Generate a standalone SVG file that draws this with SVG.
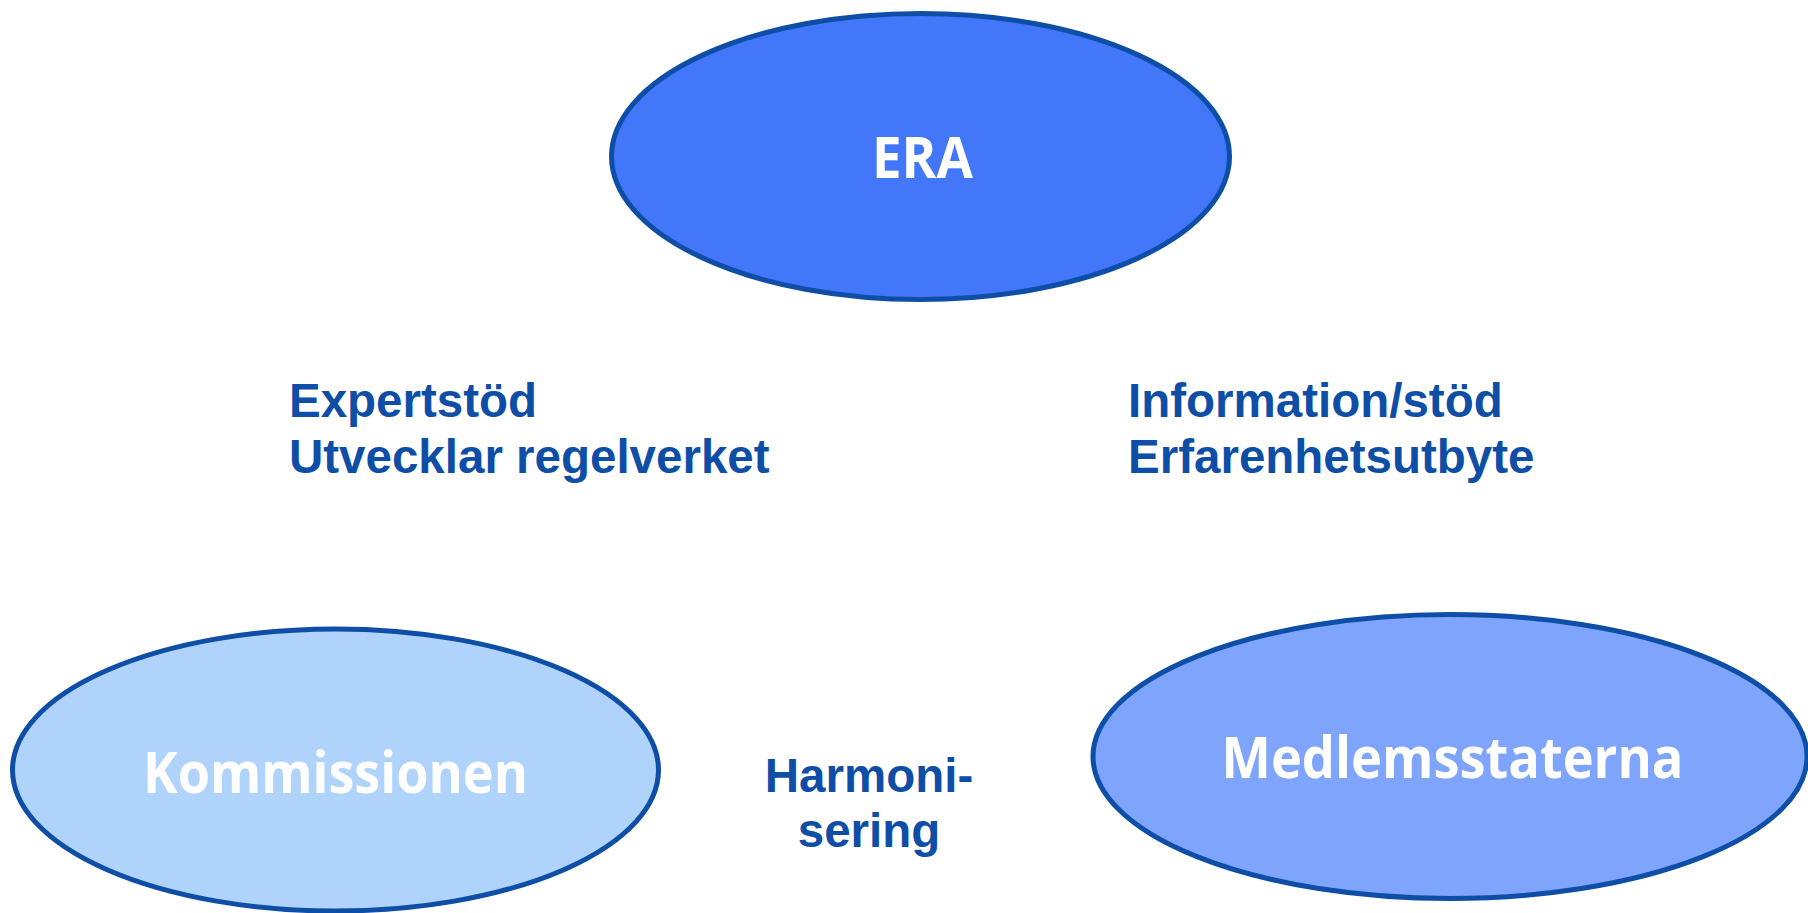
<svg xmlns="http://www.w3.org/2000/svg" width="1808" height="913" viewBox="0 0 1808 913">
<style>
.node{stroke:#0E4EA6;stroke-width:5}
.ntext{font-family:"Open Sans","Noto Sans",sans-serif;font-weight:700;font-size:58px;fill:#FFFFFF;text-anchor:middle}
.lbl{font-family:"Liberation Sans",Arial,sans-serif;font-weight:700;font-size:47.5px;fill:#0E4EA6}
</style>
<rect width="1808" height="913" fill="#FFFFFF"/>
<g id="connectors"></g>
<g id="node-era">
<ellipse class="node" cx="920.5" cy="156.5" rx="309" ry="143" fill="#4277F9"/>
<text class="ntext" x="922.5" y="178" textLength="101" lengthAdjust="spacingAndGlyphs">ERA</text>
</g>
<g id="node-kommissionen">
<ellipse class="node" cx="335.5" cy="770" rx="323" ry="141" fill="#B0D3FB"/>
<text class="ntext" x="335.5" y="793" textLength="385" lengthAdjust="spacingAndGlyphs">Kommissionen</text>
</g>
<g id="node-medlemsstaterna">
<ellipse class="node" cx="1450" cy="756.5" rx="357" ry="142" fill="#7FA4FB"/>
<text class="ntext" x="1452.5" y="778" textLength="462" lengthAdjust="spacingAndGlyphs">Medlemsstaterna</text>
</g>
<g id="label-left">
<text class="lbl" x="289" y="417">Expertstöd</text>
<text class="lbl" x="289" y="473">Utvecklar regelverket</text>
</g>
<g id="label-right">
<text class="lbl" x="1128" y="417">Information/stöd</text>
<text class="lbl" x="1128" y="473">Erfarenhetsutbyte</text>
</g>
<g id="label-bottom">
<text class="lbl" x="869" y="792" text-anchor="middle">Harmoni-</text>
<text class="lbl" x="869" y="847" text-anchor="middle">sering</text>
</g>
</svg>
